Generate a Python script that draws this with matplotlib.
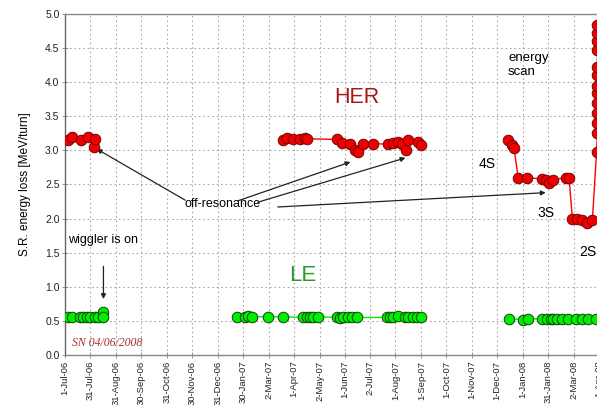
import numpy as np
import matplotlib
matplotlib.use("Agg")
import matplotlib.pyplot as plt
import pandas as pd

plt.rcParams['font.family'] = ['Liberation Sans', 'DejaVu Sans']

# HER runs (energy loss, MeV/turn)
her_dates_06 = ["2006-07-04", "2006-07-09", "2006-07-20", "2006-07-28", "2006-08-05", "2006-08-06"]
her_vals_06 = [3.15, 3.20, 3.15, 3.20, 3.05, 3.17]

her_dates_07 = ["2007-03-19", "2007-03-24", "2007-03-31", "2007-04-09", "2007-04-15", "2007-04-17",
                "2007-05-23", "2007-05-29", "2007-06-08", "2007-06-14", "2007-06-17", "2007-06-23",
                "2007-07-05", "2007-07-23", "2007-07-29", "2007-08-04", "2007-08-09", "2007-08-14",
                "2007-08-16", "2007-08-28", "2007-08-31"]
her_vals_07 = [3.15, 3.18, 3.16, 3.16, 3.18, 3.17, 3.16, 3.11, 3.10, 3.00, 2.97, 3.10,
               3.10, 3.09, 3.11, 3.12, 3.10, 3.00, 3.15, 3.13, 3.08]

her_dates_08 = ["2007-12-14", "2007-12-19", "2007-12-21", "2007-12-26", "2008-01-06", "2008-01-24",
                "2008-01-28", "2008-02-01", "2008-02-06", "2008-02-21", "2008-02-25", "2008-02-29",
                "2008-03-06", "2008-03-12", "2008-03-18", "2008-03-24", "2008-03-29", "2008-03-30",
                "2008-03-30", "2008-03-30", "2008-03-30", "2008-03-30", "2008-03-30", "2008-03-30",
                "2008-03-30", "2008-03-30", "2008-03-30", "2008-03-30", "2008-03-30"]
her_vals_08 = [3.15, 3.08, 3.04, 2.60, 2.60, 2.58, 2.57, 2.52, 2.57, 2.60, 2.60, 2.00,
               1.99, 1.98, 1.93, 1.98, 2.98, 3.25, 3.40, 3.55, 3.70, 3.84, 3.95, 4.10,
               4.22, 4.47, 4.60, 4.72, 4.84]

# LER runs
ler_dates_06 = ["2006-07-04", "2006-07-09", "2006-07-19", "2006-07-22", "2006-07-27", "2006-07-31",
                "2006-08-06", "2006-08-09", "2006-08-15", "2006-08-16"]
ler_vals_06 = [0.56, 0.56, 0.55, 0.56, 0.55, 0.56, 0.55, 0.56, 0.63, 0.56]

ler_dates_07 = ["2007-01-23", "2007-02-02", "2007-02-05", "2007-02-10", "2007-03-01", "2007-03-19",
                "2007-04-12", "2007-04-17", "2007-04-21", "2007-04-24", "2007-04-30", "2007-05-23",
                "2007-05-27", "2007-05-30", "2007-06-05", "2007-06-10", "2007-06-16", "2007-07-22",
                "2007-07-26", "2007-07-29", "2007-08-04", "2007-08-13", "2007-08-16", "2007-08-22",
                "2007-08-27", "2007-08-31"]
ler_vals_07 = [0.56, 0.56, 0.57, 0.56, 0.56, 0.56, 0.55, 0.55, 0.56, 0.55, 0.56, 0.55,
               0.54, 0.55, 0.55, 0.55, 0.55, 0.55, 0.55, 0.56, 0.57, 0.55, 0.56, 0.56,
               0.55, 0.55]

ler_dates_08 = ["2007-12-15", "2008-01-01", "2008-01-07", "2008-01-24", "2008-01-29", "2008-02-03",
                "2008-02-06", "2008-02-11", "2008-02-17", "2008-02-24", "2008-03-04", "2008-03-12",
                "2008-03-19", "2008-03-28"]
ler_vals_08 = [0.53, 0.52, 0.53, 0.53, 0.53, 0.53, 0.53, 0.53, 0.53, 0.53, 0.53, 0.53, 0.53, 0.53]

tick_dates = ["2006-07-01", "2006-07-31", "2006-08-31", "2006-09-30", "2006-10-31", "2006-11-30",
              "2006-12-31", "2007-01-30", "2007-03-02", "2007-04-01", "2007-05-02", "2007-06-01",
              "2007-07-02", "2007-08-01", "2007-09-01", "2007-10-01", "2007-11-01", "2007-12-01",
              "2008-01-01", "2008-01-31", "2008-03-02", "2008-04-01"]

D = pd.to_datetime

fig = plt.figure(figsize=(5.97, 4.05), dpi=100)
ax = fig.add_axes([0.109, 0.1235, 0.935, 0.842])

her_style = dict(color='#ff0000', lw=1.0, marker='o', ms=7.6, mfc='#ee0000', mec='#7a0000', mew=0.7)
ler_style = dict(color='#00ee00', lw=1.0, marker='o', ms=7.6, mfc='#00ee00', mec='#104010', mew=0.7)

for d, v in [(her_dates_06, her_vals_06), (her_dates_07, her_vals_07), (her_dates_08, her_vals_08)]:
    ax.plot(D(d), v, zorder=4, **her_style)
for d, v in [(ler_dates_06, ler_vals_06), (ler_dates_07, ler_vals_07), (ler_dates_08, ler_vals_08)]:
    ax.plot(D(d), v, zorder=4, **ler_style)

ax.set_xlim(D("2006-07-01"), D("2008-04-30"))
ax.set_ylim(0, 5)
ax.set_yticks(np.arange(0, 5.01, 0.5))
ax.set_yticklabels([f"{t:.1f}" for t in np.arange(0, 5.01, 0.5)], fontsize=7.5, color='#222222')
ticks = D(tick_dates)
ax.set_xticks(ticks)
ax.set_xticklabels([f"{t.day}-{t.strftime('%b-%y')}" for t in ticks], rotation=90, fontsize=6.8,
                   color='#222222')
ax.tick_params(axis='both', direction='inout', length=4, width=0.6, color='#888888', pad=2)

ax.grid(True, linestyle=(0, (1.5, 2.5)), color='#aaaaaa', lw=0.8)
ax.set_axisbelow(True)
for side in ['left', 'bottom', 'top']:
    ax.spines[side].set_color('#888888')
    ax.spines[side].set_linewidth(1.0)
ax.spines['left'].set_color('#666666')
ax.spines['right'].set_visible(False)

ax.set_ylabel("S.R. energy loss [MeV/turn]", fontsize=8.5, labelpad=10)

# labels
ax.text(D("2007-06-16"), 3.77, "HER", fontsize=15.5, color='#a01a1a', ha='center', va='center')
ax.text(D("2007-04-12"), 1.16, "LE", fontsize=16, color='#2a9a2a', ha='center', va='center')
ax.text(D("2007-12-14"), 4.44, "energy\nscan", fontsize=9.5, ha='left', va='top', linespacing=1.15)
ax.text(D("2007-11-19"), 2.80, "4S", fontsize=10, ha='center', va='center')
ax.text(D("2008-01-28"), 2.08, "3S", fontsize=10, ha='center', va='center')
ax.text(D("2008-03-18"), 1.51, "2S", fontsize=10, ha='center', va='center')
ax.text(D("2007-01-06"), 2.21, "off-resonance", fontsize=9, ha='center', va='center')
ax.text(D("2006-07-04"), 1.69, "wiggler is on", fontsize=9, ha='left', va='center')
ax.text(D("2006-07-09"), 0.18, "SN 04/06/2008", fontsize=8.5, ha='left', va='center',
        family='Liberation Serif', style='italic', color='#a03030')

arrow = dict(arrowstyle='-|>', color='#222222', lw=0.9, mutation_scale=7, shrinkA=0, shrinkB=0)
off_res = [(("2006-08-08", 3.02), ("2006-11-22", 2.27)),
           (("2007-06-08", 2.83), ("2007-01-24", 2.26)),
           (("2007-08-13", 2.89), ("2007-02-17", 2.24)),
           (("2008-01-28", 2.38), ("2007-03-13", 2.17))]
for (hx, hy), (tx, ty) in off_res:
    ax.annotate("", xy=(D(hx), hy), xytext=(D(tx), ty), arrowprops=arrow)
ax.annotate("", xy=(D("2006-08-16"), 0.82), xytext=(D("2006-08-16"), 1.30), arrowprops=arrow)

fig.savefig("out.png", dpi=100)
